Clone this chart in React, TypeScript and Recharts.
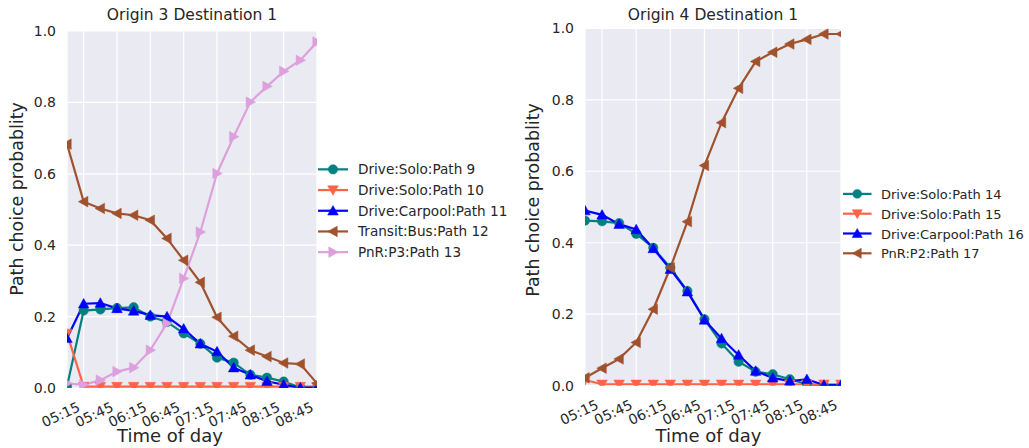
import React from 'react';
import { LineChart, Line, XAxis, YAxis, CartesianGrid, Legend } from 'recharts';

const times = ['05:00','05:15','05:30','05:45','06:00','06:15','06:30','06:45','07:00','07:15','07:30','07:45','08:00','08:15','08:30','08:45'];
const tickTimes = ['05:15','05:45','06:15','06:45','07:15','07:45','08:15','08:45'];
const yTicks = [0, 0.2, 0.4, 0.6, 0.8, 1.0];

// Origin 3 Destination 1
const path9 = [0.004, 0.217, 0.220, 0.224, 0.226, 0.200, 0.185, 0.153, 0.124, 0.085, 0.071, 0.037, 0.029, 0.018, 0.001, 0.0];
const path10 = [0.153, 0.004, 0.004, 0.004, 0.004, 0.004, 0.004, 0.004, 0.004, 0.004, 0.004, 0.004, 0.004, 0.004, 0.004, 0.004];
const path11 = [0.139, 0.236, 0.238, 0.223, 0.216, 0.204, 0.200, 0.166, 0.124, 0.102, 0.057, 0.037, 0.019, 0.009, 0.001, 0.001];
const path12 = [0.683, 0.522, 0.503, 0.489, 0.484, 0.470, 0.419, 0.358, 0.296, 0.198, 0.145, 0.106, 0.088, 0.070, 0.067, 0.013];
const path13 = [0.013, 0.009, 0.022, 0.046, 0.057, 0.106, 0.181, 0.307, 0.437, 0.601, 0.704, 0.801, 0.845, 0.887, 0.918, 0.969];

// Origin 4 Destination 1
const path14 = [0.462, 0.460, 0.455, 0.425, 0.386, 0.330, 0.265, 0.186, 0.118, 0.067, 0.039, 0.032, 0.018, 0.004, 0.0, 0.0];
const path15 = [0.016, 0.004, 0.004, 0.004, 0.004, 0.004, 0.004, 0.004, 0.004, 0.004, 0.004, 0.004, 0.004, 0.004, 0.004, 0.004];
const path16 = [0.490, 0.478, 0.452, 0.437, 0.384, 0.326, 0.263, 0.184, 0.132, 0.086, 0.041, 0.022, 0.013, 0.018, 0.002, 0.002];
const path17 = [0.022, 0.049, 0.075, 0.121, 0.214, 0.330, 0.459, 0.616, 0.736, 0.832, 0.907, 0.933, 0.956, 0.969, 0.984, 0.984];

const leftSeries = [
  { key: 'p9', name: 'Drive:Solo:Path 9', values: path9, color: '#008080', marker: 'circle' },
  { key: 'p10', name: 'Drive:Solo:Path 10', values: path10, color: '#ff6347', marker: 'down' },
  { key: 'p11', name: 'Drive:Carpool:Path 11', values: path11, color: '#0000ff', marker: 'up' },
  { key: 'p12', name: 'Transit:Bus:Path 12', values: path12, color: '#a0522d', marker: 'left' },
  { key: 'p13', name: 'PnR:P3:Path 13', values: path13, color: '#dda0dd', marker: 'right' },
];
const rightSeries = [
  { key: 'p14', name: 'Drive:Solo:Path 14', values: path14, color: '#008080', marker: 'circle' },
  { key: 'p15', name: 'Drive:Solo:Path 15', values: path15, color: '#ff6347', marker: 'down' },
  { key: 'p16', name: 'Drive:Carpool:Path 16', values: path16, color: '#0000ff', marker: 'up' },
  { key: 'p17', name: 'PnR:P2:Path 17', values: path17, color: '#a0522d', marker: 'left' },
];

const FONT = '"DejaVu Sans", sans-serif';
const TXT = '#262626';

function buildData(series: any[]) {
  return times.map((t, i) => {
    const row: any = { time: t };
    series.forEach((s) => { row[s.key] = s.values[i]; });
    return row;
  });
}

function markerShape(kind: string, cx: number, cy: number, color: string, key?: any, scale = 1) {
  const r = 4.7 * scale;
  if (kind === 'circle') return <circle key={key} cx={cx} cy={cy} r={r} fill={color} stroke={color} strokeWidth={0.5} />;
  let pts: number[][] = [];
  const s = 5.3 * scale;
  if (kind === 'down') pts = [[cx - s, cy - s * 0.8], [cx + s, cy - s * 0.8], [cx, cy + s]];
  if (kind === 'up') pts = [[cx - s, cy + s * 0.8], [cx + s, cy + s * 0.8], [cx, cy - s]];
  if (kind === 'left') pts = [[cx + s * 0.8, cy - s], [cx + s * 0.8, cy + s], [cx - s, cy]];
  if (kind === 'right') pts = [[cx - s * 0.8, cy - s], [cx - s * 0.8, cy + s], [cx + s, cy]];
  return <polygon key={key} points={pts.map((p) => p.join(',')).join(' ')} fill={color} stroke={color} strokeWidth={0.5} />;
}

const XTick = (props: any) => {
  const { x, y, payload } = props;
  const px = x - 2.5;
  const py = y + 22.5;
  return (
    <text x={px} y={py} textAnchor="end" fontSize={14} fontFamily={FONT} fill={TXT} transform={`rotate(-25, ${px}, ${py})`}>
      {payload.value}
    </text>
  );
};

const YTick = (props: any) => {
  const { x, y, payload } = props;
  return (
    <text x={x} y={y + 5} textAnchor="end" fontSize={14} fontFamily={FONT} fill={TXT}>
      {Number(payload.value).toFixed(1)}
    </text>
  );
};

function makeLegend(series: any[], rowH: number, fontSize: number, scale: number) {
  return () => (
    <svg width={230} height={series.length * rowH + 4} style={{ display: 'block' }}>
      {series.map((s, i) => {
        const cy = rowH / 2 + i * rowH;
        return (
          <g key={s.key}>
            <line x1={0} x2={30 * scale} y1={cy} y2={cy} stroke={s.color} strokeWidth={2.2} />
            {markerShape(s.marker, 15 * scale, cy, s.color, undefined, scale)}
            <text x={40 * scale} y={cy + 5} fontSize={fontSize} fontFamily={FONT} fill={TXT}>{s.name}</text>
          </g>
        );
      })}
    </svg>
  );
}

type PanelProps = {
  left: number;
  width: number;
  plotLeft: number;
  plotRight: number;
  plotTop: number;
  plotBottom: number;
  series: any[];
  title: string;
  xLabelX: number;
  yLabelX: number;
  yLabelY: number;
  legendLeft: number;
  legendTop: number;
  legendRow: number;
  legendFont: number;
  legendScale: number;
};

function Panel(p: PanelProps) {
  const data = buildData(p.series);
  const H = 448;
  const yAxisW = p.plotLeft;
  const xAxisH = H - p.plotBottom;
  const titleX = (p.plotLeft + p.plotRight) / 2;
  return (
    <div style={{ position: 'absolute', left: p.left, top: 0 }}>
      <LineChart
        width={p.width}
        height={H}
        data={data}
        margin={{ top: p.plotTop, right: p.width - p.plotRight, bottom: 0, left: 0 }}
      >
        <CartesianGrid fill="#EAEAF2" stroke="#ffffff" strokeWidth={1.2} horizontal={true} vertical={true} />
        <XAxis
          dataKey="time"
          type="category"
          ticks={tickTimes}
          interval={0}
          height={xAxisH}
          tickSize={0}
          tickMargin={0}
          axisLine={false}
          tickLine={false}
          tick={<XTick />}
          allowDataOverflow
        />
        <YAxis
          type="number"
          domain={[0, 1]}
          ticks={yTicks}
          width={yAxisW}
          tickSize={0}
          tickMargin={11}
          axisLine={false}
          tickLine={false}
          tick={<YTick />}
          allowDataOverflow
        />
        {p.series.map((s) => (
          <Line
            key={s.key}
            dataKey={s.key}
            name={s.name}
            stroke={s.color}
            strokeWidth={2.2}
            isAnimationActive={false}
            dot={(dp: any) => markerShape(s.marker, dp.cx, dp.cy, s.color, `${s.key}-${dp.index}`)}
            activeDot={false}
          />
        ))}
        <Legend
          layout="vertical"
          align="center"
          verticalAlign="middle"
          content={makeLegend(p.series, p.legendRow, p.legendFont, p.legendScale)}
          wrapperStyle={{ left: p.legendLeft, top: p.legendTop, width: 230 }}
        />
        <text x={titleX} y={20} textAnchor="middle" fontSize={15.5} fontFamily={FONT} fill={TXT}>{p.title}</text>
        <text x={p.xLabelX} y={441.5} textAnchor="middle" fontSize={18} fontFamily={FONT} fill={TXT}>Time of day</text>
        <text
          x={p.yLabelX}
          y={p.yLabelY}
          textAnchor="middle"
          fontSize={17.4}
          fontFamily={FONT}
          fill={TXT}
          transform={`rotate(-90, ${p.yLabelX}, ${p.yLabelY})`}
        >
          Path choice probablity
        </text>
      </LineChart>
    </div>
  );
}

export default function App() {
  return (
    <div style={{ position: 'absolute', left: 0, top: 0, width: 1029, height: 448, background: '#ffffff', overflow: 'hidden' }}>
      <Panel
        left={0}
        width={520}
        plotLeft={67}
        plotRight={317}
        plotTop={31}
        plotBottom={388}
        series={leftSeries}
        title="Origin 3 Destination 1"
        xLabelX={170}
        yLabelX={23}
        yLabelY={199}
        legendLeft={318}
        legendTop={159}
        legendRow={20.7}
        legendFont={13.6}
        legendScale={1}
      />
      <Panel
        left={520}
        width={509}
        plotLeft={65}
        plotRight={321}
        plotTop={28.3}
        plotBottom={385.7}
        series={rightSeries}
        title="Origin 4 Destination 1"
        xLabelX={188.5}
        yLabelX={19}
        yLabelY={200}
        legendLeft={323}
        legendTop={184.4}
        legendRow={19.8}
        legendFont={13}
        legendScale={0.95}
      />
    </div>
  );
}
